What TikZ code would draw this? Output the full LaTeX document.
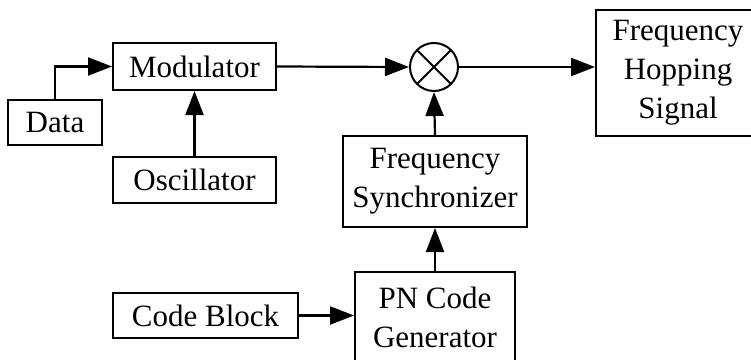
\documentclass[tikz,border=0pt]{standalone}
\usepackage{fontspec}
\setmainfont{Liberation Serif}
\usetikzlibrary{arrows.meta, positioning, shapes.geometric}
\tikzset{
  box/.style={draw, line width=2pt, align=center, inner sep=0pt, font=\fontsize{31}{39}\selectfont},
  mixer/.style={draw, circle, line width=2pt, minimum size=48pt, inner sep=0pt,
    path picture={\draw[line width=2pt] (path picture bounding box.north west) -- (path picture bounding box.south east)
      (path picture bounding box.north east) -- (path picture bounding box.south west);}},
  arr/.style={-{Triangle[length=24pt, width=18pt]}, line width=2.2pt}
}

\begin{document}
\begin{tikzpicture}[x=1pt, y=-1pt]
                \clip (0,0) rectangle (751,359);
                \node[box, minimum width=94pt, minimum height=45pt] (data) at (55,122.5) {Data};
                \node[box, minimum width=163pt, minimum height=47pt] (mod) at (194.5,66.5) {Modulator};
                \node[box, minimum width=163pt, minimum height=46pt] (osc) at (194.5,180) {Oscillator};
                \node[mixer] (mix) at (434,67) {};
                \node[box, minimum width=164pt, minimum height=126pt] (fhs) at (678,73) {Frequency\\ Hopping\\ Signal};
                \node[box, minimum width=184pt, minimum height=91pt] (sync) at (435,181.5) {Frequency\\ Synchronizer};
                \node[box, minimum width=185pt, minimum height=45pt] (code) at (205.5,315.5) {Code Block};
                \node[box, minimum width=160pt, minimum height=91pt] (pn) at (435,317.5) {PN Code\\ Generator};
                \draw[arr] (data.north) |- (mod.west);
                \draw[arr] (osc.north) -- (mod.south);
                \draw[arr] (mod.east) -- (mix.west);
                \draw[arr] (mix.east) -- (mix.east -| fhs.west);
                \draw[arr] (sync.north) -- (mix.south);
                \draw[arr] (pn.north) -- (sync.south);
                \draw[arr] (code.east) -- (code.east -| pn.west);
            \end{tikzpicture}
\end{document}
